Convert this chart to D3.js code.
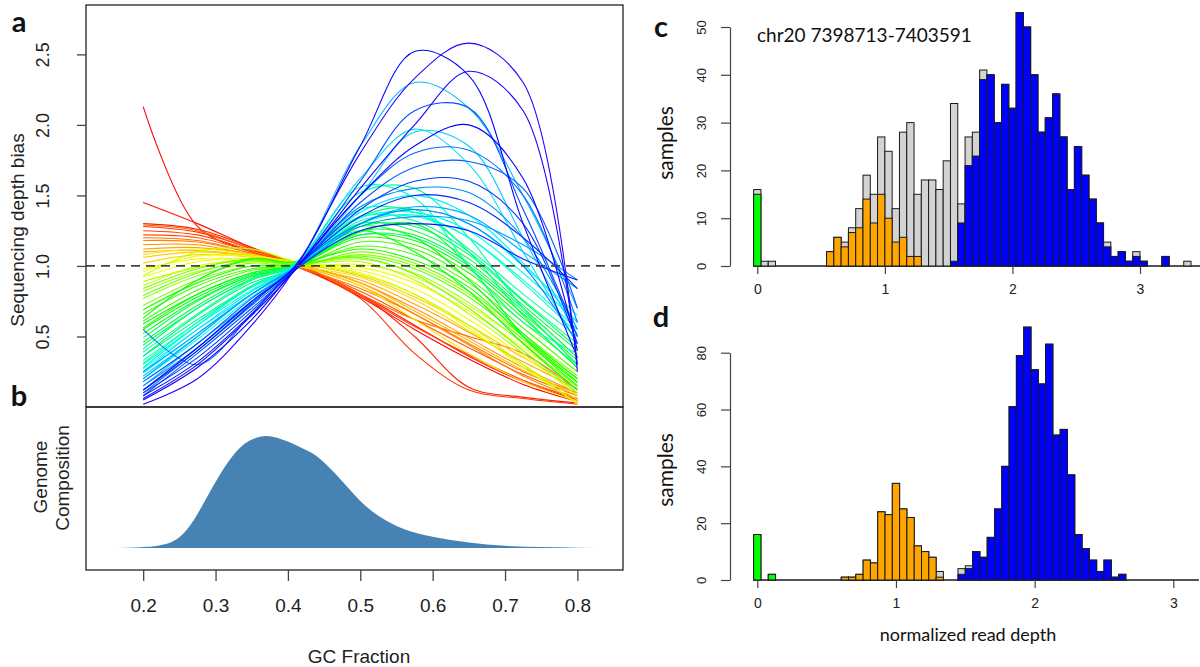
<!DOCTYPE html>
<html>
<head>
<meta charset="utf-8">
<script src="https://cdn.jsdelivr.net/npm/d3@7"></script>
<style>
  body { margin: 0; background: #fff; }
  svg { display: block; }
</style>
</head>
<body>
<svg id="chart" width="1200" height="667"></svg>
<script>
// ---- panel a: GC bias curves, read at these GC fractions, ordered red -> blue ----
var gcPoints = [0.2, 0.275, 0.35, 0.41, 0.5, 0.575, 0.65, 0.725, 0.8];
var biasCurves = [
    [2.13, 1.28, 1.10, 1.01, 0.78, 0.55, 0.34, 0.16, 0.04],
    [1.45, 1.30, 1.13, 1.02, 0.80, 0.58, 0.36, 0.18, 0.05],
    [1.30, 1.26, 1.13, 1.01, 0.80, 0.50, 0.14, 0.07, 0.03],
    [1.28, 1.24, 1.12, 1.00, 0.77, 0.38, 0.12, 0.06, 0.02],
    [1.25, 1.22, 1.11, 1.02, 0.79, 0.57, 0.37, 0.19, 0.06],
    [1.22, 1.20, 1.10, 1.01, 0.82, 0.62, 0.42, 0.23, 0.08],
    [1.29, 1.25, 1.12, 1.02, 0.80, 0.62, 0.50, 0.38, 0.12],
    [1.20, 1.18, 1.09, 1.00, 0.84, 0.66, 0.45, 0.25, 0.10],
    [1.18, 1.17, 1.09, 1.01, 0.86, 0.66, 0.44, 0.22, 0.06],
    [1.15, 1.15, 1.08, 1.02, 0.88, 0.70, 0.49, 0.28, 0.10],
    [1.12, 1.13, 1.08, 1.00, 0.90, 0.73, 0.53, 0.32, 0.13],
    [1.10, 1.11, 1.07, 1.01, 0.88, 0.68, 0.47, 0.26, 0.08],
    [1.06, 1.10, 1.07, 1.02, 0.93, 0.78, 0.58, 0.35, 0.15],
    [1.02, 1.08, 1.06, 1.00, 0.92, 0.76, 0.54, 0.30, 0.05],
    [1.08, 1.12, 1.08, 1.01, 0.86, 0.62, 0.38, 0.18, 0.04],
    [0.98, 1.05, 1.05, 1.02, 0.97, 0.84, 0.62, 0.36, 0.10],
    [0.92, 1.03, 1.05, 1.01, 0.99, 0.88, 0.68, 0.42, 0.15],
    [0.96, 1.07, 1.07, 1.03, 0.95, 0.80, 0.56, 0.28, 0.03],
    [0.86, 1.00, 1.04, 1.00, 1.01, 0.92, 0.72, 0.46, 0.18],
    [0.93, 1.10, 1.12, 1.03, 0.94, 0.80, 0.58, 0.30, 0.02],
    [0.89, 0.99, 1.04, 1.01, 1.03, 0.90, 0.66, 0.38, 0.08],
    [0.82, 0.96, 1.03, 1.01, 1.05, 0.95, 0.74, 0.45, 0.14],
    [0.77, 0.93, 1.02, 1.00, 1.08, 1.00, 0.80, 0.50, 0.20],
    [0.72, 0.90, 1.00, 0.99, 1.10, 1.02, 0.82, 0.52, 0.22],
    [0.84, 0.98, 1.05, 1.02, 1.06, 0.94, 0.70, 0.40, 0.10],
    [0.79, 0.95, 1.04, 1.01, 1.07, 0.98, 0.78, 0.48, 0.17],
    [0.66, 0.86, 0.98, 1.00, 1.14, 1.08, 0.88, 0.56, 0.25],
    [0.61, 0.83, 0.97, 0.99, 1.17, 1.12, 0.91, 0.60, 0.30],
    [0.56, 0.80, 0.95, 1.00, 1.20, 1.15, 0.95, 0.63, 0.28],
    [0.69, 0.88, 1.00, 1.01, 1.12, 1.04, 0.85, 0.50, 0.18],
    [0.52, 0.76, 0.93, 0.99, 1.22, 1.18, 0.98, 0.66, 0.33],
    [0.59, 0.80, 0.95, 1.01, 1.28, 1.20, 0.90, 0.52, 0.20],
    [0.63, 0.90, 1.05, 1.03, 1.25, 1.10, 0.82, 0.45, 0.12],
    [0.55, 0.78, 0.94, 1.00, 1.24, 1.30, 1.00, 0.50, 0.15],
    [0.46, 0.72, 0.92, 0.99, 1.25, 1.22, 1.02, 0.70, 0.35],
    [0.41, 0.70, 0.90, 1.00, 1.30, 1.25, 1.05, 0.72, 0.40],
    [0.36, 0.65, 0.88, 0.98, 1.28, 1.28, 1.08, 0.75, 0.42],
    [0.49, 0.75, 0.93, 1.01, 1.22, 1.20, 1.00, 0.68, 0.30],
    [0.44, 0.70, 0.91, 1.00, 1.35, 1.40, 1.10, 0.65, 0.28],
    [0.31, 0.60, 0.85, 0.99, 1.35, 1.32, 1.10, 0.76, 0.45],
    [0.36, 0.62, 0.86, 1.01, 1.52, 1.55, 1.20, 0.70, 0.30],
    [0.28, 0.58, 0.85, 0.98, 1.40, 1.38, 1.12, 0.80, 0.50],
    [0.39, 0.66, 0.90, 1.02, 1.56, 1.48, 1.00, 0.60, 0.38],
    [0.33, 0.60, 0.86, 0.99, 1.32, 1.35, 1.20, 0.88, 0.52],
    [0.30, 0.58, 0.83, 1.00, 1.30, 1.36, 1.20, 0.90, 0.55],
    [0.20, 0.48, 0.78, 0.98, 1.34, 1.38, 1.25, 0.95, 0.60],
    [0.27, 0.55, 0.80, 0.99, 1.30, 1.40, 1.30, 1.00, 0.65],
    [0.24, 0.52, 0.80, 1.00, 1.38, 1.50, 1.36, 1.02, 0.60],
    [0.25, 0.55, 0.82, 1.01, 1.62, 1.97, 1.72, 1.10, 0.45],
    [0.22, 0.50, 0.80, 0.99, 1.50, 1.95, 1.85, 1.20, 0.50],
    [0.15, 0.45, 0.75, 1.00, 1.85, 2.30, 2.12, 1.50, 0.70],
    [0.20, 0.50, 0.80, 0.98, 1.30, 1.42, 1.36, 1.10, 0.84],
    [0.25, 0.52, 0.80, 0.99, 1.28, 1.35, 1.32, 1.15, 0.90],
    [0.15, 0.42, 0.74, 0.98, 1.42, 1.55, 1.52, 1.20, 0.55],
    [0.55, 0.30, 0.66, 0.99, 1.30, 1.40, 1.30, 1.00, 0.45],
    [0.10, 0.40, 0.72, 0.98, 1.50, 1.80, 1.82, 1.50, 0.60],
    [0.08, 0.38, 0.70, 0.97, 1.45, 1.70, 1.74, 1.55, 0.70],
    [0.18, 0.45, 0.77, 0.99, 1.60, 2.10, 2.12, 1.40, 0.50],
    [0.10, 0.35, 0.68, 0.98, 1.40, 1.60, 1.60, 1.30, 0.45],
    [0.12, 0.40, 0.73, 0.99, 1.35, 1.50, 1.45, 1.20, 0.84],
    [0.08, 0.32, 0.66, 0.97, 1.25, 1.30, 1.25, 1.05, 0.90],
    [0.12, 0.42, 0.75, 1.00, 1.85, 2.52, 2.35, 1.30, 0.35],
    [0.05, 0.28, 0.62, 0.98, 1.50, 1.85, 2.00, 1.62, 0.40],
    [0.06, 0.30, 0.65, 0.97, 1.55, 2.00, 2.38, 2.10, 0.30],
    [0.02, 0.20, 0.58, 0.98, 1.80, 2.33, 2.58, 2.30, 0.25]
];
var biasTicks = [0.5, 1.0, 1.5, 2.0, 2.5];
var gcTicks = [0.2, 0.3, 0.4, 0.5, 0.6, 0.7, 0.8];

// ---- panel b: genome GC composition (relative density) ----
var densityGC = [0.14, 0.18, 0.20, 0.22, 0.24, 0.25, 0.26, 0.27, 0.28, 0.30, 0.32, 0.34, 0.36, 0.37, 0.38, 0.40,
    0.42, 0.44, 0.46, 0.48, 0.50, 0.52, 0.54, 0.56, 0.58, 0.60, 0.65, 0.70, 0.75, 0.80, 0.85];
var densityValue = [0, 0.002, 0.008, 0.02, 0.055, 0.095, 0.16, 0.25, 0.36, 0.59, 0.79, 0.93, 0.99, 1.00, 0.99, 0.95,
    0.89, 0.82, 0.70, 0.56, 0.42, 0.31, 0.23, 0.17, 0.13, 0.10, 0.05, 0.02, 0.008, 0.003, 0];

// ---- panel c: chr20 7398713-7403591 read depth histogram ----
var depthTicks = [0, 1, 2, 3];
var cBinWidth = 2 / 35;
var cTicks = [0, 10, 20, 30, 40, 50];
var cTotal = [16, 1, 1, 0, 0, 0, 0, 0, 0, 0,
    3, 6, 5, 8, 12, 19, 15, 27, 24, 12,
    28, 30, 15, 18, 18, 16, 22, 34, 13, 27,
    28, 41, 40, 30, 38, 33, 53, 50, 40, 28,
    31, 36, 27, 16, 25, 19, 14, 9, 5, 2,
    3, 1, 3, 1, 0, 0, 2, 0, 0, 1,
    0, 0];
var cGreenStart = 0, cGreen = [15];
var cOrangeStart = 10, cOrange = [3, 6, 4, 7, 8, 14, 9, 15, 10, 5, 6, 2, 2];
var cBlueStart = 27, cBlue = [1, 9, 21, 23, 39, 40, 30, 38, 33, 53, 50, 40, 28, 31, 36, 27, 16, 25, 19, 14,
    9, 4, 2, 3, 1, 2, 1, 0, 0, 2];

// ---- panel d ----
var dBinWidth = 1 / 19;
var dTicks = [0, 20, 40, 60, 80];
var dTotal = [16, 0, 2, 0, 0, 0, 0, 0, 0, 0,
    0, 0, 1, 1, 2, 7, 6, 24, 23, 34,
    25, 22, 12, 10, 8, 3, 0, 0, 4, 5,
    10, 8, 15, 25, 40, 61, 79, 89, 74, 69,
    83, 51, 53, 37, 16, 11, 7, 3, 7, 1,
    2, 0, 0, 0, 0, 0, 0, 0, 0, 0,
    0];
var dGreenStart = 0, dGreen = [16, 0, 2];
var dOrangeStart = 12, dOrange = [1, 1, 2, 7, 6, 24, 23, 34, 25, 22, 12, 10, 8, 1];
var dBlueStart = 28, dBlue = [2, 4, 10, 8, 15, 25, 40, 61, 79, 89, 74, 69, 83, 51, 53, 37, 16, 11, 7, 3, 7, 1, 2];

var svg = d3.select("#chart");
var helv = "'Liberation Sans', Arial, sans-serif";
var cal = "Lato, 'Open Sans', sans-serif";

// ================= panels a & b =================
var xGC = d3.scaleLinear().domain([0.121, 0.863]).range([86, 623]);
var yBias = d3.scaleLinear().domain([0, 2.85]).range([407, 5]);
var yDens = d3.scaleLinear().domain([0, 1]).range([548, 436]);

svg.append("clipPath").attr("id", "clipA")
    .append("rect").attr("x", 86).attr("y", 5).attr("width", 537).attr("height", 407);

var biasLine = d3.line()
    .x(function (d, i) { return xGC(gcPoints[i]); })
    .y(function (d) { return yBias(d); })
    .curve(d3.curveCatmullRom.alpha(0.5));

svg.append("g").attr("clip-path", "url(#clipA)")
    .selectAll("path")
    .data(biasCurves)
    .enter()
    .append("path")
    .attr("d", biasLine)
    .attr("fill", "none")
    .attr("stroke", function (d, i) {
        return d3.hsl(250 * i / (biasCurves.length - 1), 1, 0.5).toString();
    })
    .attr("stroke-width", 1.1);

svg.append("line")
    .attr("x1", 86).attr("x2", 623)
    .attr("y1", yBias(1)).attr("y2", yBias(1))
    .attr("stroke", "#444")
    .attr("stroke-width", 1.8)
    .attr("stroke-dasharray", "9,6");

var densArea = d3.area()
    .x(function (d, i) { return xGC(densityGC[i]); })
    .y0(yDens(0))
    .y1(function (d) { return yDens(d); })
    .curve(d3.curveMonotoneX);

svg.append("path")
    .datum(densityValue)
    .attr("d", densArea)
    .attr("fill", "#4682b4");

// boxes
svg.append("rect").attr("x", 86).attr("y", 5).attr("width", 537).attr("height", 402)
    .attr("fill", "none").attr("stroke", "#222").attr("stroke-width", 1.3);
svg.append("rect").attr("x", 86).attr("y", 407).attr("width", 537).attr("height", 163)
    .attr("fill", "none").attr("stroke", "#222").attr("stroke-width", 1.3);

var axA = svg.append("g")
    .attr("transform", "translate(86,0)")
    .call(d3.axisLeft(yBias).tickValues(biasTicks).tickSize(9).tickSizeOuter(0).tickFormat(d3.format(".1f")));
axA.select(".domain").remove();
axA.selectAll("line").attr("stroke", "#444").attr("stroke-width", 1.3);
axA.selectAll("text")
    .attr("x", null)
    .attr("dy", "0.35em")
    .attr("transform", "translate(-43,0) rotate(-90)")
    .style("text-anchor", "middle")
    .style("font-family", helv)
    .style("font-size", "18px")
    .style("fill", "#222");

var axB = svg.append("g")
    .attr("transform", "translate(0,570)")
    .call(d3.axisBottom(xGC).tickValues(gcTicks).tickSize(11).tickSizeOuter(0).tickFormat(d3.format(".1f")));
axB.select(".domain").remove();
axB.selectAll("line").attr("stroke", "#444").attr("stroke-width", 1.3);
axB.selectAll("text")
    .attr("y", 29)
    .style("font-family", helv)
    .style("font-size", "19px")
    .style("fill", "#222");

svg.append("text")
    .attr("x", 359).attr("y", 656).attr("dy", "0.35em")
    .attr("text-anchor", "middle")
    .style("font-family", helv).style("font-size", "19px").style("fill", "#222")
    .text("GC Fraction");

svg.append("text")
    .attr("transform", "translate(17,230) rotate(-90)")
    .attr("dy", "0.35em")
    .attr("text-anchor", "middle")
    .style("font-family", helv).style("font-size", "19px").style("fill", "#222")
    .text("Sequencing depth bias");

svg.append("text")
    .attr("transform", "translate(40,477) rotate(-90)")
    .attr("dy", "0.35em")
    .attr("text-anchor", "middle")
    .style("font-family", helv).style("font-size", "19px").style("fill", "#222")
    .text("Genome");
svg.append("text")
    .attr("transform", "translate(62,478) rotate(-90)")
    .attr("dy", "0.35em")
    .attr("text-anchor", "middle")
    .style("font-family", helv).style("font-size", "19px").style("fill", "#222")
    .text("Composition");

function panelLetter(x, y, s) {
    svg.append("text")
        .attr("x", x).attr("y", y)
        .attr("text-anchor", "middle")
        .style("font-family", cal).style("font-weight", "bold").style("font-size", "29px")
        .style("fill", "#111")
        .text(s);
}
panelLetter(19, 32, "a");
panelLetter(19, 406, "b");
panelLetter(661, 37, "c");
panelLetter(661, 327, "d");

// ================= panels c & d =================
function drawHist(x, y, binW, total, parts, yTicks) {
    var g = svg.append("g");
    var bw = x(binW) - x(0);

    // empty bins show up as a black floor line, as in R's hist()
    g.append("line")
        .attr("x1", x(-binW / 2))
        .attr("x2", Math.min(1200, x((total.length - 0.5) * binW)))
        .attr("y1", y(0)).attr("y2", y(0))
        .attr("stroke", "#1a1a1a")
        .attr("stroke-width", 1.6);

    function addBars(counts, start, fill) {
        g.append("g").selectAll("rect")
            .data(counts)
            .enter()
            .append("rect")
            .attr("x", function (d, i) { return x((start + i) * binW - binW / 2); })
            .attr("width", bw)
            .attr("y", function (d) { return y(d); })
            .attr("height", function (d) { return y(0) - y(d); })
            .attr("fill", fill)
            .attr("stroke", "#1a1a1a")
            .attr("stroke-width", 1);
    }
    addBars(total, 0, "#d3d3d3");
    parts.forEach(function (p) { addBars(p.counts, p.start, p.fill); });

    var ay = g.append("g")
        .attr("transform", "translate(730,0)")
        .call(d3.axisLeft(y).tickValues(yTicks).tickSize(9).tickSizeOuter(0));
    ay.select(".domain").attr("stroke", "#444").attr("stroke-width", 1.2);
    ay.selectAll("line").attr("stroke", "#444").attr("stroke-width", 1.2);
    ay.selectAll("text")
        .attr("x", null)
        .attr("dy", "0.35em")
        .attr("transform", "translate(-29,0) rotate(-90)")
        .style("text-anchor", "middle")
        .style("font-family", helv).style("font-size", "13px").style("fill", "#222");

    var ax = g.append("g")
        .attr("transform", "translate(0," + y(0) + ")")
        .call(d3.axisBottom(x).tickValues(depthTicks).tickSize(8).tickSizeOuter(0).tickFormat(d3.format("d")));
    ax.select(".domain").remove();
    ax.selectAll("line").attr("stroke", "#444").attr("stroke-width", 1.2);
    ax.selectAll("text")
        .attr("y", 18)
        .style("font-family", helv).style("font-size", "14px").style("fill", "#222");
}

var xC = d3.scaleLinear().domain([0, 3]).range([757.3, 1140]);
var yC = d3.scaleLinear().domain([0, 50]).range([266, 27]);
drawHist(xC, yC, cBinWidth, cTotal, [
    { start: cGreenStart, counts: cGreen, fill: "#00ff00" },
    { start: cOrangeStart, counts: cOrange, fill: "#ffa500" },
    { start: cBlueStart, counts: cBlue, fill: "#0000ff" }
], cTicks);

var xD = d3.scaleLinear().domain([0, 3]).range([757.3, 1173.3]);
var yD = d3.scaleLinear().domain([0, 80]).range([580, 352.7]);
drawHist(xD, yD, dBinWidth, dTotal, [
    { start: dGreenStart, counts: dGreen, fill: "#00ff00" },
    { start: dOrangeStart, counts: dOrange, fill: "#ffa500" },
    { start: dBlueStart, counts: dBlue, fill: "#0000ff" }
], dTicks);

svg.append("text")
    .attr("x", 757).attr("y", 42)
    .style("font-family", cal).style("font-size", "19px").style("fill", "#111")
    .text("chr20 7398713-7403591");

svg.append("text")
    .attr("transform", "translate(666,143) rotate(-90)")
    .attr("dy", "0.35em").attr("text-anchor", "middle")
    .style("font-family", cal).style("font-size", "21px").style("fill", "#111")
    .text("samples");
svg.append("text")
    .attr("transform", "translate(666,470) rotate(-90)")
    .attr("dy", "0.35em").attr("text-anchor", "middle")
    .style("font-family", cal).style("font-size", "21px").style("fill", "#111")
    .text("samples");

svg.append("text")
    .attr("x", 968).attr("y", 635).attr("dy", "0.35em")
    .attr("text-anchor", "middle")
    .style("font-family", cal).style("font-size", "18px").style("fill", "#111")
    .text("normalized read depth");
</script>
</body>
</html>
